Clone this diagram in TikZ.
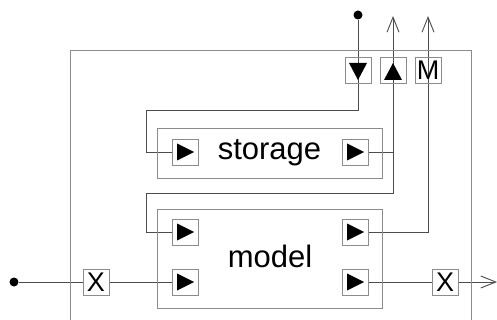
\documentclass[tikz,border=0pt]{standalone}
\usepackage{fontspec}
\setmainfont{Liberation Sans}
\usetikzlibrary{arrows.meta,calc,positioning,backgrounds}

\begin{document}
\begin{tikzpicture}
[x=1pt,y=-1pt,
block/.style={shape=rectangle,draw=black!45,inner sep=0pt,font=\fontsize{31}{31}\selectfont},
port/.style={shape=rectangle,draw=black!45,inner sep=0pt,minimum size=26pt,font=\fontsize{27}{27}\selectfont},
rport/.style={port,path picture={\fill ($(path picture bounding box.center)+(-8,-8.5)$) -- ++(0,17) -- ++(17,-8.5) -- cycle;}},
dport/.style={port,path picture={\fill ($(path picture bounding box.center)+(-9,-7)$) -- ++(18,0) -- ++(-9,17) -- cycle;}},
uport/.style={port,path picture={\fill ($(path picture bounding box.center)+(-9,10)$) -- ++(18,0) -- ++(-9,-17) -- cycle;}},
dot/.style={shape=circle,fill=black,inner sep=0pt,minimum size=9pt},
wire/.style={draw=black!70,line width=0.9pt},
arrowtip/.style={-{Straight Barb[length=15pt,width=12pt]}}]
%%
\useasboundingbox (0,0) rectangle (497,320);
\draw[draw=black!45,line width=0.9pt] (70,320) -- (70,50) -- (471,50) -- (471,320);
%%
\node (storage) [block,minimum width=225pt,minimum height=50pt] at (269.5,153) {storage};
\node (model) [block,minimum width=225pt,minimum height=99pt] at (269.5,258.5) {};
\node at (270,267) [anchor=base,font=\fontsize{31}{31}\selectfont] {model};
%%
\node (sil) [rport] at (185,152) {};
\node (sir) [rport] at (355,152) {};
\node (mul) [rport] at (185,232) {};
\node (mll) [rport] at (185,282) {};
\node (mur) [rport] at (355,232) {};
\node (mlr) [rport] at (355,282) {};
\node (pdown) [dport] at (358,70) {};
\node (pup) [uport] at (393,70) {};
\node (pm) [port] at (428,70) {M};
\node (xin) [port] at (96,282) {X};
\node (xout) [port] at (445,282) {X};
%%
\node (src) [dot] at (358,15) {};
\node (in) [dot] at (14,282) {};
\coordinate (k1) at (146,110);
\coordinate (k2) at (146,193);
\coordinate (up) at (393,16);
\coordinate (mout) at (428,16);
\coordinate (out) at (497,282);
%%
\begin{scope}[on background layer]
\draw[wire] (src) |- (k1) |- (sil.west);
\draw[wire,arrowtip] (mul.west) -| (k2) -| (up);
\draw[wire] (sir.east) -- (sir.east -| up);
\draw[wire,arrowtip] (mur.east) -| (mout);
\draw[wire] (in) -- (xin);
\draw[wire] (xin) -- (mll);
\draw[wire] (mlr) -- (xout);
\draw[wire,arrowtip] (xout) -- (out);
\end{scope}
%%
\end{tikzpicture}
\end{document}
